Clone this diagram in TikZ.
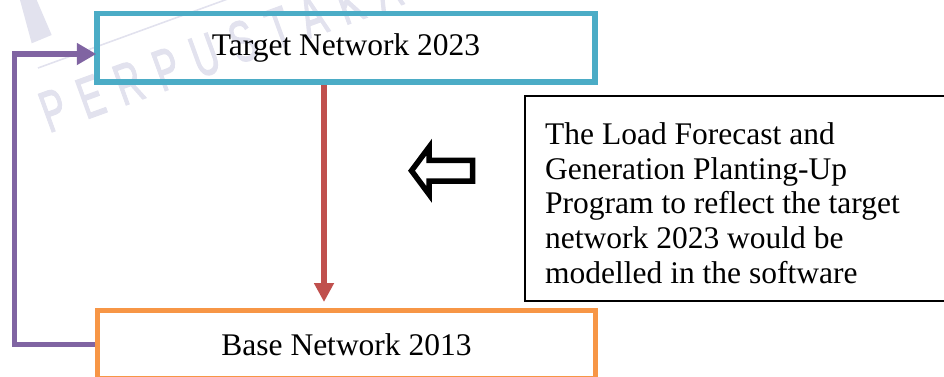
\documentclass[tikz,border=0pt]{standalone}
\usepackage{fontspec}
\usepackage{graphicx}
\setmainfont{Liberation Serif}
\newfontfamily\markfont[LetterSpace=43, FakeBold=2.5]{Liberation Sans}
\usetikzlibrary{arrows.meta}

\definecolor{netteal}{HTML}{4BACC6}
\definecolor{netorange}{HTML}{F79646}
\definecolor{netred}{HTML}{C0504D}
\definecolor{netpurple}{HTML}{8064A2}
\definecolor{markgray}{HTML}{E2E2EE}

\begin{document}
\begin{tikzpicture}[x=1pt, y=-1pt,
  netbox/.style={draw, line width=5.5pt, minimum width=498pt, minimum height=68.5pt,
    inner sep=0pt, font=\fontsize{31.5}{34.7}\selectfont},
  notebox/.style={draw=black, line width=2pt, minimum width=425pt, minimum height=205pt,
    inner sep=0pt},
  notetxt/.style={inner sep=0pt, align=left, font=\fontsize{31.5}{34.7}\selectfont},
  downlink/.style={draw=netred, line width=5.5pt, shorten >=5.5pt,
    -{Triangle[length=19pt,width=19pt]}},
  backlink/.style={draw=netpurple, line width=5.5pt, shorten >=-2pt,
    -{Triangle[length=19.5pt,width=21pt]}},
  hollowarrow/.style={draw=black, fill=white, line width=5.5pt, miter limit=10},
  markink/.style={markgray}
]
\useasboundingbox (0,0) rectangle (944,376);
\clip (0,0) rectangle (944,376);

% faint library watermark behind the diagram
\fill[markink] (20,0) -- (36.7,0) -- (51.7,35) -- (31.7,43.3) -- cycle;
\draw[markink, line width=1.6pt] (38,68) -- (238.7,-5);
\node[markink, rotate=20, anchor=base west, inner sep=0pt,
      font=\markfont\fontsize{58}{58}\selectfont] (mark) at (49,133)
  {\scalebox{0.62}[1]{PERPUSTAKAAN}};

% main blocks
\node[netbox, draw=netteal] (target) at (346,47.75) {Target Network 2023};
\node[netbox, draw=netorange] (base) at (346.5,344.5) {Base Network 2013};

% explanatory note
\node[notebox] (note) at (737.5,198.5) {};
\node[notetxt, anchor=north west] (notetext) at (545,122.5)
  {The Load Forecast and\\Generation Planting-Up\\Program to reflect the target\\network 2023 would be\\modelled in the software};

% hollow arrow pointing from the note towards the flow
\draw[hollowarrow] (411.5,170.7) -- (429.2,147) -- (429.2,160.3) -- (472.7,160.3)
  -- (472.7,181.2) -- (429.2,181.2) -- (429.2,194.5) -- cycle;

% connectors
\coordinate (drop) at ([xshift=-22pt]target.south);
\draw[downlink] (drop) -- (drop |- base.north);
\draw[backlink] (base.west) -- ++(-80.5,0) |- ([yshift=-6.25pt]target.west);
\end{tikzpicture}
\end{document}
